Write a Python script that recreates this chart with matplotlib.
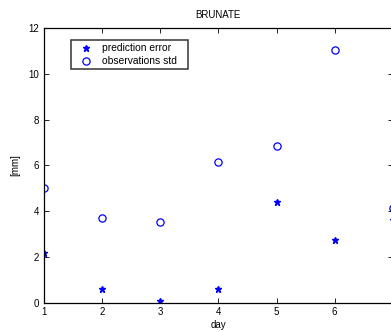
import matplotlib
matplotlib.use("Agg")
import matplotlib.pyplot as plt

days = [1, 2, 3, 4, 5, 6, 7]
prediction_error = [2.15, 0.60, 0.07, 0.60, 4.40, 2.72, 3.63]
observations_std = [5.00, 3.71, 3.53, 6.15, 6.86, 11.03, 4.15]
xticks = [1, 2, 3, 4, 5, 6, 7]
yticks = [0, 2, 4, 6, 8, 10, 12]

plt.rcParams['font.family'] = ['Liberation Sans', 'DejaVu Sans']
fig = plt.figure(figsize=(3.91, 3.32), dpi=100)
ax = fig.add_axes([0.1115, 0.0883, 0.8935, 0.8274])

ax.plot(days, prediction_error, linestyle='none', marker='*', color='#0000ff',
        markersize=5, label='prediction error')
ax.plot(days, observations_std, linestyle='none', marker='o', color='#0000ff',
        markerfacecolor='none', markersize=5.2, markeredgewidth=0.9,
        label='observations std')

ax.set_xlim(1, 7)
ax.set_ylim(0, 12)
ax.set_xticks(xticks)
ax.set_yticks(yticks)
ax.tick_params(direction='in', top=True, right=True, length=3.5, width=0.6,
               labelsize=7, pad=3)
for s in ax.spines.values():
    s.set_linewidth(0.9)
ax.set_title('BRUNATE', fontsize=7, pad=7)
ax.set_xlabel('day', fontsize=7, labelpad=2)
ax.set_ylabel('[mm]', fontsize=7, labelpad=6)

leg = ax.legend(loc='upper left', bbox_to_anchor=(0.079, 0.956, 0.3357, 0.0),
                mode='expand', fontsize=7.4,
                frameon=True, fancybox=False, edgecolor='black',
                handlelength=2.3, handletextpad=0.4, borderpad=0.3,
                labelspacing=0.3, borderaxespad=0)
leg.get_frame().set_linewidth(1.1)

fig.savefig('out.png', dpi=100)
